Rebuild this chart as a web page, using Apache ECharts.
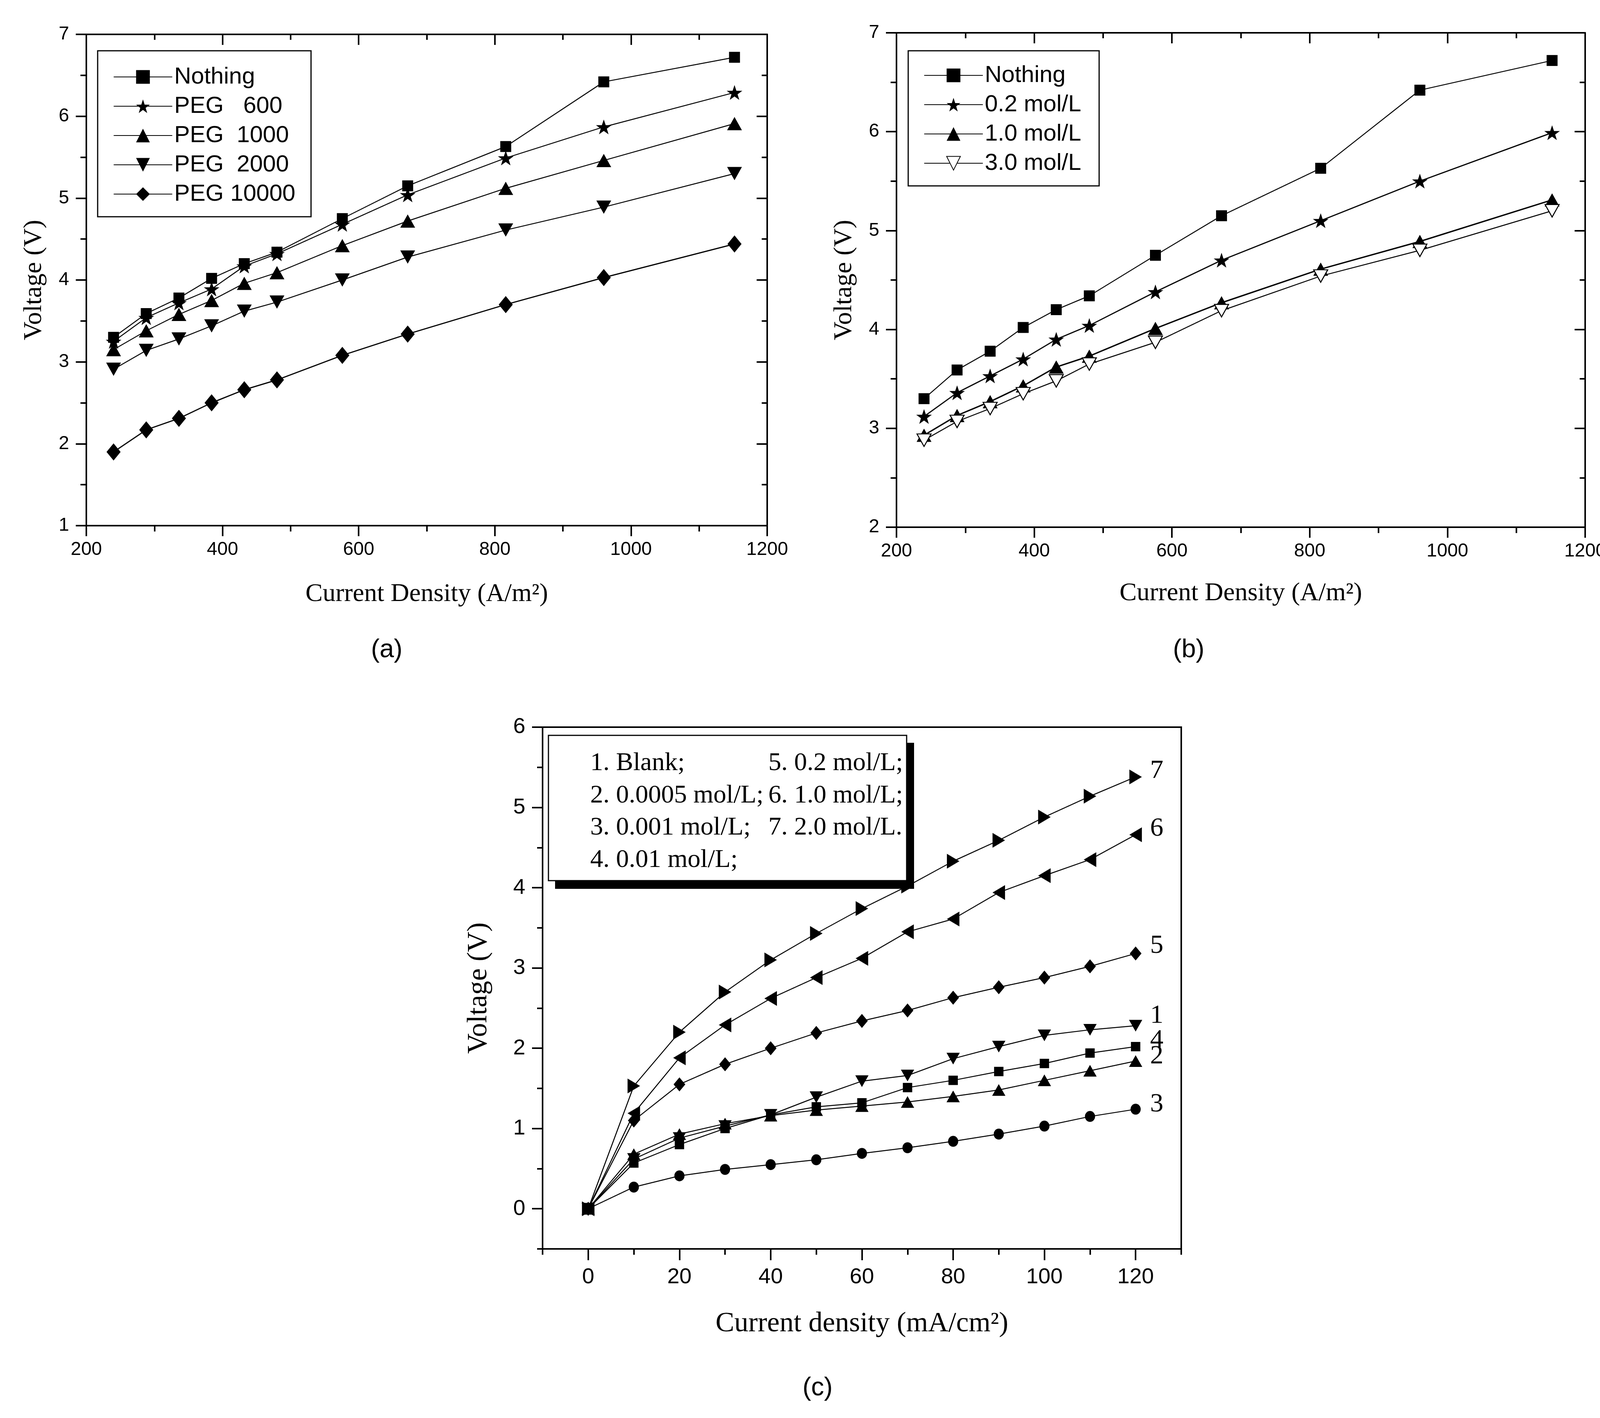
<!DOCTYPE html>
<html lang="en">
<head>
  <meta charset="UTF-8">
  <title>Voltage vs current density</title>
  <script src="https://cdn.jsdelivr.net/npm/echarts@6.0.0/dist/echarts.min.js"></script>
  <style>html,body{margin:0;padding:0;background:#fff;}</style>
</head>
<body>
  <div id="main" style="width:4196px;height:3631px;"></div>
  <script>
  // (a) effect of PEG molecular weight
  var xA = [240, 288, 336, 384, 432, 480, 576, 672, 816, 960, 1152]
  var nothing = [3.30, 3.59, 3.78, 4.02, 4.20, 4.34, 4.75, 5.15, 5.63, 6.42, 6.72]
  var peg600 = [3.25, 3.54, 3.72, 3.89, 4.17, 4.32, 4.68, 5.04, 5.49, 5.87, 6.29]
  var peg1000 = [3.15, 3.38, 3.58, 3.75, 3.96, 4.09, 4.42, 4.72, 5.12, 5.46, 5.91]
  var peg2000 = [2.91, 3.14, 3.28, 3.44, 3.62, 3.73, 4.00, 4.28, 4.61, 4.89, 5.30]
  var peg10000 = [1.90, 2.17, 2.31, 2.50, 2.66, 2.78, 3.08, 3.34, 3.70, 4.03, 4.44]
  var namesA = ['Nothing', 'PEG   600', 'PEG  1000', 'PEG  2000', 'PEG 10000']

  // (b) effect of concentration
  var conc02 = [3.12, 3.36, 3.53, 3.70, 3.90, 4.04, 4.38, 4.70, 5.10, 5.50, 5.99]
  var conc10 = [2.93, 3.13, 3.27, 3.43, 3.62, 3.73, 4.01, 4.27, 4.61, 4.89, 5.31]
  var conc30 = [2.88, 3.07, 3.20, 3.35, 3.48, 3.65, 3.87, 4.19, 4.54, 4.80, 5.20]
  var namesB = ['Nothing', '0.2 mol/L', '1.0 mol/L', '3.0 mol/L']

  // (c) curves 1..7
  var xC = [0, 10, 20, 30, 40, 50, 60, 70, 80, 90, 100, 110, 120]
  var c1 = [0, 0.62, 0.88, 1.03, 1.17, 1.39, 1.59, 1.66, 1.87, 2.02, 2.16, 2.23, 2.28]
  var c2 = [0, 0.68, 0.93, 1.06, 1.16, 1.23, 1.28, 1.33, 1.40, 1.48, 1.60, 1.72, 1.84]
  var c3 = [0, 0.27, 0.41, 0.49, 0.55, 0.61, 0.69, 0.76, 0.84, 0.93, 1.03, 1.15, 1.24]
  var c4 = [0, 0.57, 0.80, 1.00, 1.17, 1.27, 1.32, 1.51, 1.60, 1.71, 1.81, 1.94, 2.02]
  var c5 = [0, 1.10, 1.55, 1.80, 2.00, 2.19, 2.34, 2.47, 2.63, 2.76, 2.88, 3.02, 3.18]
  var c6 = [0, 1.19, 1.88, 2.29, 2.62, 2.88, 3.12, 3.45, 3.61, 3.94, 4.15, 4.35, 4.66]
  var c7 = [0, 1.53, 2.20, 2.70, 3.10, 3.43, 3.74, 4.02, 4.33, 4.59, 4.88, 5.14, 5.38]
  var endNamesC = ['1', '2', '3', '4', '5', '6', '7']
  var legendColL = ['1. Blank;', '2. 0.0005 mol/L;', '3. 0.001 mol/L;', '4. 0.01 mol/L;']
  var legendColR = ['5. 0.2 mol/L;', '6. 1.0 mol/L;', '7. 2.0 mol/L.']
  var ticksC = [0, 20, 40, 60, 80, 100, 120]
  var ticksCY = [0, 1, 2, 3, 4, 5, 6]

  var STAR = 'path://M50,0 L61.8,35.1 L98.1,35.1 L68.8,56.7 L79.4,91 L50,70 L20.6,91 L31.2,56.7 L1.9,35.1 L38.2,35.1 Z'
  var DOWN = 'path://M0,0 L10,0 L5,10 Z'
  var RIGHT = 'path://M0,0 L10,5 L0,10 Z'
  var LEFT = 'path://M10,0 L0,5 L10,10 Z'
  var SANS = 'Liberation Sans'
  var SERIF = 'Liberation Serif'

  function pairs(xs, ys) { return xs.map(function (x, i) { return [x, ys[i]] }) }
  function plain(v) { return String(v) }

  function line(name, xi, xs, ys, symbol, size, lw, fill) {
    return {
      name: name, type: 'line', xAxisIndex: xi, yAxisIndex: xi,
      data: pairs(xs, ys), symbol: symbol, symbolSize: size, showAllSymbol: true,
      lineStyle: { color: '#000', width: lw },
      itemStyle: { color: fill || '#000', borderColor: '#000', borderWidth: fill ? 2.5 : 0 },
      emphasis: { disabled: true }
    }
  }

  function mainX(grid, min, max, interval, name, gap, labelSize, nameSize) {
    return {
      gridIndex: grid, type: 'value', min: min, max: max, interval: interval, position: 'bottom',
      axisLine: { show: true, onZero: false, lineStyle: { color: '#000', width: 4 } },
      axisTick: { show: true, length: 27, lineStyle: { color: '#000', width: 4 } },
      minorTick: { show: true, splitNumber: 2, length: 15, lineStyle: { color: '#000', width: 4 } },
      axisLabel: { margin: 38, fontSize: labelSize, fontFamily: SANS, color: '#000', formatter: plain },
      splitLine: { show: false },
      name: name, nameLocation: 'middle', nameGap: gap,
      nameTextStyle: { fontSize: nameSize, fontFamily: SERIF, color: '#000' }
    }
  }
  function mainY(grid, min, max, interval, gap, labelSize, nameSize) {
    return {
      gridIndex: grid, type: 'value', min: min, max: max, interval: interval, position: 'left',
      axisLine: { show: true, onZero: false, lineStyle: { color: '#000', width: 4 } },
      axisTick: { show: true, length: 27, lineStyle: { color: '#000', width: 4 } },
      minorTick: { show: true, splitNumber: 2, length: 15, lineStyle: { color: '#000', width: 4 } },
      axisLabel: { margin: 44, fontSize: labelSize, fontFamily: SANS, color: '#000', formatter: plain },
      splitLine: { show: false },
      name: 'Voltage (V)', nameLocation: 'middle', nameGap: gap,
      nameTextStyle: { fontSize: nameSize, fontFamily: SERIF, color: '#000' }
    }
  }
  function mirror(grid, min, max, interval, pos) {
    return {
      gridIndex: grid, type: 'value', min: min, max: max, interval: interval, position: pos,
      axisLine: { show: true, onZero: false, lineStyle: { color: '#000', width: 4 } },
      axisTick: { show: true, inside: true, length: 27, lineStyle: { color: '#000', width: 4 } },
      minorTick: { show: true, splitNumber: 2, length: 14, lineStyle: { color: '#000', width: 4 } },
      axisLabel: { show: false }, splitLine: { show: false }
    }
  }

  var legendText = { fontSize: 60, fontFamily: SANS, color: '#000', lineHeight: 60 }

  var series = [
    line(namesA[0], 0, xA, nothing, 'rect', [28, 28], 2.5),
    line(namesA[1], 0, xA, peg600, STAR, [40, 38], 2.5),
    line(namesA[2], 0, xA, peg1000, 'triangle', [38, 34], 2.5),
    line(namesA[3], 0, xA, peg2000, DOWN, [38, 34], 2.5),
    line(namesA[4], 0, xA, peg10000, 'diamond', [36, 44], 3),
    line(namesB[0], 2, xA, nothing, 'rect', [28, 28], 2.5),
    line(namesB[1], 2, xA, conc02, STAR, [40, 38], 3),
    line(namesB[2], 2, xA, conc10, 'triangle', [38, 34], 3.5),
    line(namesB[3], 2, xA, conc30, DOWN, [36, 32], 2.5, '#fff')
  ]

  var cStyles = [
    { ys: c1, sym: DOWN, size: [34, 30], dy: -25 },
    { ys: c2, sym: 'triangle', size: [34, 30], dy: -12 },
    { ys: c3, sym: 'circle', size: [26, 28], dy: -12 },
    { ys: c4, sym: 'rect', size: [24, 24], dy: -16 },
    { ys: c5, sym: 'diamond', size: [30, 36], dy: -19 },
    { ys: c6, sym: LEFT, size: [32, 38], dy: -15 },
    { ys: c7, sym: RIGHT, size: [32, 38], dy: -15 }
  ]
  cStyles.forEach(function (s, i) {
    var sr = line('curve ' + endNamesC[i], 4, xC, s.ys, s.sym, s.size, 2.5)
    sr.endLabel = {
      show: true, formatter: endNamesC[i], offset: [29, s.dy],
      fontSize: 68, fontFamily: SERIF, color: '#000'
    }
    series.push(sr)
  })

  var graphics = [
    { type: 'text', x: 990, y: 1665, style: { text: '(a)', fontSize: 66, fontFamily: SANS, fill: '#000', align: 'center', verticalAlign: 'middle' } },
    { type: 'text', x: 3043, y: 1665, style: { text: '(b)', fontSize: 66, fontFamily: SANS, fill: '#000', align: 'center', verticalAlign: 'middle' } },
    { type: 'text', x: 2093, y: 3555, style: { text: '(c)', fontSize: 66, fontFamily: SANS, fill: '#000', align: 'center', verticalAlign: 'middle' } },
    { type: 'rect', z: 10, shape: { x: 1421, y: 1902, width: 919, height: 374 }, style: { fill: '#000' } },
    { type: 'rect', z: 11, shape: { x: 1404, y: 1883, width: 917, height: 372 }, style: { fill: '#fff', stroke: '#000', lineWidth: 3 } }
  ]
  legendColL.forEach(function (t, i) {
    graphics.push({ type: 'text', z: 12, x: 1511, y: 1955 + i * 82.5, style: { text: t, fontSize: 66, fontFamily: SERIF, fill: '#000', verticalAlign: 'middle' } })
  })
  legendColR.forEach(function (t, i) {
    graphics.push({ type: 'text', z: 12, x: 1967, y: 1955 + i * 82.5, style: { text: t, fontSize: 66, fontFamily: SERIF, fill: '#000', verticalAlign: 'middle' } })
  })

  var myChart = echarts.init(document.getElementById('main'))
  var option = {
    backgroundColor: '#fff',
    animation: false,
    grid: [
      { left: 221, top: 88, width: 1743, height: 1258 },
      { left: 2295, top: 84, width: 1763, height: 1266 },
      { left: 1389, top: 1862, width: 1635, height: 1336, show: true, borderColor: '#000', borderWidth: 4 }
    ],
    legend: [
      {
        data: namesA, orient: 'vertical', left: 250, top: 130, selectedMode: false,
        padding: [37, 40, 28, 40], itemGap: 15, itemWidth: 150, itemHeight: 44,
        borderColor: '#000', borderWidth: 3, textStyle: legendText
      },
      {
        data: namesB, orient: 'vertical', left: 2325, top: 130, selectedMode: false,
        padding: [33, 46, 28, 40], itemGap: 15, itemWidth: 150, itemHeight: 44,
        borderColor: '#000', borderWidth: 3, textStyle: legendText
      }
    ],
    xAxis: [
      mainX(0, 200, 1200, 200, 'Current Density (A/m²)', 143, 48, 66),
      mirror(0, 200, 1200, 200, 'top'),
      mainX(1, 200, 1200, 200, 'Current Density (A/m²)', 137, 48, 66),
      mirror(1, 200, 1200, 200, 'top'),
      {
        gridIndex: 2, type: 'value', min: -10, max: 130, interval: 10, position: 'bottom',
        axisLine: { show: true, onZero: false, lineStyle: { color: '#000', width: 4 } },
        axisTick: { show: true, length: 29, customValues: ticksC, lineStyle: { color: '#000', width: 4 } },
        axisLabel: { margin: 45, fontSize: 56, fontFamily: SANS, color: '#000', customValues: ticksC },
        splitLine: { show: false },
        name: 'Current density (mA/cm²)', nameLocation: 'middle', nameGap: 156,
        nameTextStyle: { fontSize: 72, fontFamily: SERIF, color: '#000' }
      },
      {
        gridIndex: 2, type: 'value', min: -10, max: 130, interval: 10, position: 'bottom',
        axisLine: { show: false, onZero: false },
        axisTick: { show: true, length: 15, lineStyle: { color: '#000', width: 4 } },
        axisLabel: { show: false }, splitLine: { show: false }
      }
    ],
    yAxis: [
      mainY(0, 1, 7, 1, 100, 48, 66),
      mirror(0, 1, 7, 1, 'right'),
      mainY(1, 2, 7, 1, 100, 48, 66),
      mirror(1, 2, 7, 1, 'right'),
      {
        gridIndex: 2, type: 'value', min: -0.5, max: 6, interval: 0.5, position: 'left',
        axisLine: { show: true, onZero: false, lineStyle: { color: '#000', width: 4 } },
        axisTick: { show: true, length: 27, customValues: ticksCY, lineStyle: { color: '#000', width: 4 } },
        axisLabel: { margin: 44, fontSize: 56, fontFamily: SANS, color: '#000', customValues: ticksCY },
        splitLine: { show: false },
        name: 'Voltage (V)', nameLocation: 'middle', nameGap: 127,
        nameTextStyle: { fontSize: 72, fontFamily: SERIF, color: '#000' }
      },
      {
        gridIndex: 2, type: 'value', min: -0.5, max: 6, interval: 0.5, position: 'left',
        axisLine: { show: false, onZero: false },
        axisTick: { show: true, length: 14, lineStyle: { color: '#000', width: 4 } },
        axisLabel: { show: false }, splitLine: { show: false }
      }
    ],
    graphic: graphics,
    series: series
  }
  myChart.setOption(option)
  </script>
</body>
</html>
